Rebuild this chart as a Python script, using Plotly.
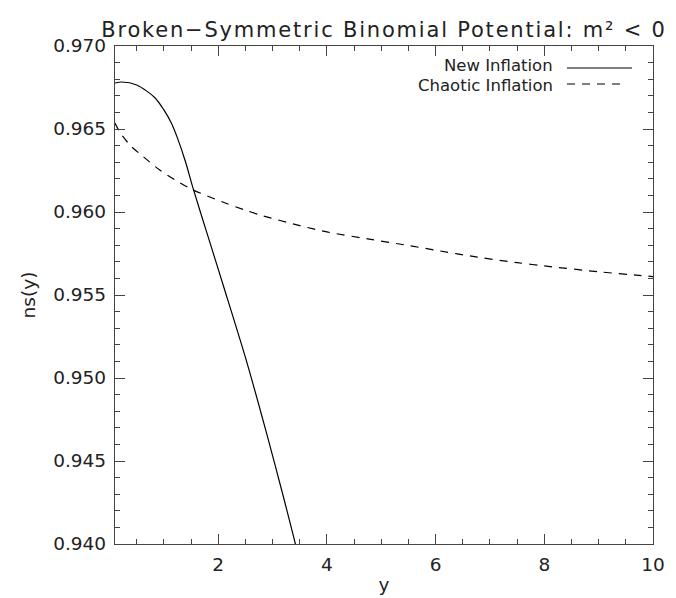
import plotly.graph_objects as go

# ---- data ----
series_names = ["New Inflation", "Chaotic Inflation"]

new_x = [0.10, 0.22, 0.50, 0.83, 1.00, 1.13, 1.25, 1.40, 1.53, 1.80, 2.10, 2.50, 2.90, 3.20, 3.40, 3.45]
new_y = [0.96777, 0.96783, 0.96765, 0.96690, 0.96615, 0.96540, 0.96445, 0.96300, 0.96150,
         0.95865, 0.95550, 0.95124, 0.94654, 0.94283, 0.94026, 0.93960]

chaotic_x = [0.10, 0.20, 0.40, 0.60, 0.93, 1.27, 1.53, 2.13, 2.47, 2.79, 3.50, 4.00, 4.75,
             5.50, 6.00, 6.77, 7.50, 8.00, 9.00, 9.74, 10.00]
chaotic_y = [0.96536, 0.96475, 0.96395, 0.96339, 0.96251, 0.96181, 0.96134, 0.96054, 0.96014,
             0.95980, 0.95918, 0.95880, 0.95838, 0.95798, 0.95770, 0.95728, 0.95695, 0.95675,
             0.95640, 0.95618, 0.95611]

x_ticks = [2, 4, 6, 8, 10]
y_ticks = [0.940, 0.945, 0.950, 0.955, 0.960, 0.965, 0.970]
y_tick_text = ["0.940", "0.945", "0.950", "0.955", "0.960", "0.965", "0.970"]

title_text = "Broken\u2212Symmetric Binomial Potential: m\u00b2 < 0"
x_title = "y"
y_title = "ns(y)"

FONT = "DejaVu Sans"
TXT = "#222222"
AX = "#444444"
DASH = "8px,7px"

fig = go.Figure()
fig.add_trace(go.Scatter(x=new_x, y=new_y, mode="lines", name=series_names[0],
                         line=dict(color="black", width=1.2, shape="spline", smoothing=0.8),
                         showlegend=False))
fig.add_trace(go.Scatter(x=chaotic_x, y=chaotic_y, mode="lines", name=series_names[1],
                         line=dict(color="black", width=1.2, dash=DASH, shape="spline", smoothing=0.8),
                         showlegend=False))

# legend drawn IDL-style: text, then line sample to its right
PLOT_TOP, PLOT_BOTTOM, PLOT_LEFT, PLOT_RIGHT = 38, 536, 107, 645
def py(p):
    return (PLOT_BOTTOM - p) / (PLOT_BOTTOM - PLOT_TOP)
def px(p):
    return (p - PLOT_LEFT) / (PLOT_RIGHT - PLOT_LEFT)

leg_text_rows = [57.5, 77.5]
leg_line_rows = [60, 76]
leg_line_ends = [624, 617]
leg_dashes = ["solid", DASH]
for name, ty, ly, xe, dash in zip(series_names, leg_text_rows, leg_line_rows, leg_line_ends, leg_dashes):
    fig.add_annotation(x=px(546), y=py(ty), xref="paper", yref="paper", text=name,
                       showarrow=False, xanchor="right", yanchor="middle", borderpad=0,
                       font=dict(family=FONT, size=16.5, color=TXT))
    fig.add_shape(type="line", xref="paper", yref="paper", x0=px(559), x1=px(xe), y0=py(ly), y1=py(ly),
                  line=dict(color="black", width=1.2, dash=dash))

axis_common = dict(
    showline=True, linecolor=AX, linewidth=1.3, mirror="ticks",
    ticks="inside", ticklen=10, tickwidth=1.3, tickcolor=AX,
    showgrid=False, zeroline=False,
    tickfont=dict(family=FONT, size=18.5, color=TXT),
)

fig.update_layout(
    width=676, height=598,
    margin=dict(l=PLOT_LEFT, r=676 - PLOT_RIGHT, t=PLOT_TOP, b=598 - PLOT_BOTTOM),
    paper_bgcolor="white", plot_bgcolor="white",
    title=dict(text='<span style="letter-spacing:1.8px">' + title_text + '</span>',
               x=0.5, xref="paper", xanchor="center",
               y=1 - 22 / 598, yref="container", yanchor="middle",
               font=dict(family=FONT, size=21, color=TXT)),
    xaxis=dict(range=[0.1, 10], tickmode="array", tickvals=x_ticks,
               minor=dict(ticks="inside", ticklen=5, tickwidth=1.1, tickcolor=AX,
                          tick0=0, dtick=0.5, showgrid=False),
               title=dict(text=x_title, standoff=3, font=dict(family=FONT, size=18.5, color=TXT)),
               ticklabelstandoff=4,
               **axis_common),
    yaxis=dict(range=[0.940, 0.970], tickmode="array", tickvals=y_ticks, ticktext=y_tick_text,
               minor=dict(ticks="inside", ticklen=5, tickwidth=1.1, tickcolor=AX,
                          tick0=0.94, dtick=0.001, showgrid=False),
               title=dict(text=y_title, standoff=12, font=dict(family=FONT, size=18.5, color=TXT)),
               ticklabelstandoff=4,
               **axis_common),
)

fig.write_html("out.html")
